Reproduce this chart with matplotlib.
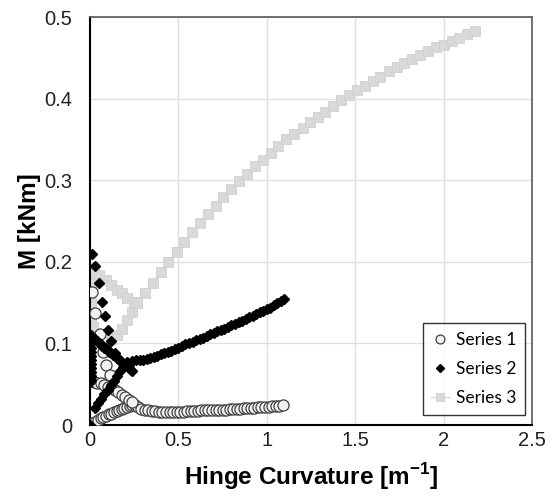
import numpy as np
import matplotlib.pyplot as plt

# Series 1 - open circles
s1_low_x = [0.0, 0.015, 0.03, 0.045, 0.06, 0.075, 0.09, 0.105, 0.12, 0.135, 0.15, 0.165,
            0.18, 0.195, 0.21, 0.225, 0.24, 0.255,
            0.27, 0.29, 0.31, 0.33, 0.35, 0.37, 0.39, 0.41, 0.43, 0.45, 0.47, 0.49, 0.51,
            0.53, 0.55, 0.57, 0.59, 0.61, 0.63, 0.65, 0.67, 0.69, 0.71, 0.73, 0.75, 0.77,
            0.79, 0.81, 0.83, 0.85, 0.87, 0.89, 0.91, 0.93, 0.95, 0.97, 0.99, 1.01, 1.03,
            1.05, 1.07, 1.09]
s1_low_y = [0.000, 0.002, 0.004, 0.006, 0.008, 0.010, 0.011, 0.013, 0.014, 0.016, 0.017, 0.019,
            0.020, 0.021, 0.022, 0.023, 0.024, 0.024,
            0.022, 0.020, 0.019, 0.018, 0.017, 0.017, 0.016, 0.016, 0.016, 0.016, 0.016, 0.016, 0.016,
            0.016, 0.017, 0.017, 0.017, 0.017, 0.018, 0.018, 0.018, 0.018, 0.019, 0.019, 0.019, 0.019,
            0.020, 0.020, 0.020, 0.020, 0.021, 0.021, 0.021, 0.021, 0.022, 0.022, 0.022, 0.022, 0.023,
            0.023, 0.023, 0.024]
s1_up_x = [0.0, 0.02, 0.04, 0.06, 0.08, 0.10, 0.12, 0.14, 0.16, 0.18, 0.20, 0.22, 0.24]
s1_up_y = [0.054, 0.053, 0.052, 0.051, 0.049, 0.047, 0.045, 0.043, 0.040, 0.037, 0.034, 0.031, 0.028]
s1_sp_x = [0.012, 0.03, 0.055, 0.073, 0.093, 0.115]
s1_sp_y = [0.163, 0.137, 0.111, 0.090, 0.074, 0.061]

# Series 2 - black diamonds
s2_main_x = [0.22, 0.24, 0.26, 0.28, 0.30, 0.32, 0.34, 0.36, 0.38, 0.40, 0.42, 0.44, 0.46, 0.48,
             0.50, 0.52, 0.54, 0.56, 0.58, 0.60, 0.62, 0.64, 0.66, 0.68, 0.70, 0.72, 0.74, 0.76,
             0.78, 0.80, 0.82, 0.84, 0.86, 0.88, 0.90, 0.92, 0.94, 0.96, 0.98, 1.00, 1.02, 1.04,
             1.06, 1.08, 1.10]
s2_main_y = [0.074, 0.079, 0.080, 0.080, 0.080, 0.081, 0.082, 0.083, 0.085, 0.087, 0.088, 0.090,
             0.091, 0.093, 0.095, 0.097, 0.099, 0.100, 0.102, 0.104, 0.105, 0.107, 0.109, 0.111,
             0.113, 0.115, 0.117, 0.118, 0.120, 0.122, 0.124, 0.126, 0.128, 0.130, 0.132, 0.134,
             0.136, 0.138, 0.140, 0.142, 0.144, 0.147, 0.149, 0.152, 0.155]
s2_down_x = [0.0, 0.01, 0.02, 0.03, 0.04, 0.05, 0.06, 0.07, 0.08, 0.09, 0.10, 0.11, 0.12, 0.13,
             0.14, 0.15, 0.16, 0.17, 0.18, 0.19, 0.20, 0.21, 0.22, 0.23, 0.24]
s2_down_y = [0.110, 0.108, 0.106, 0.105, 0.103, 0.101, 0.099, 0.097, 0.095, 0.094, 0.092, 0.090,
             0.088, 0.086, 0.084, 0.083, 0.081, 0.079, 0.077, 0.075, 0.073, 0.072, 0.070, 0.068, 0.066]
s2_vert_x = [0.003] * 12 + [0.0, 0.0]
s2_vert_y = [0.055, 0.060, 0.065, 0.070, 0.075, 0.080, 0.085, 0.090, 0.095, 0.100, 0.105, 0.110,
             0.0, 0.053]
s2_sp_x = [0.01, 0.027, 0.05, 0.066, 0.083, 0.10, 0.117, 0.14,
           0.027, 0.045, 0.063, 0.081, 0.099, 0.117, 0.135, 0.153, 0.171, 0.189, 0.207]
s2_sp_y = [0.209, 0.195, 0.174, 0.151, 0.133, 0.117, 0.103, 0.088,
           0.021, 0.027, 0.032, 0.038, 0.043, 0.049, 0.054, 0.060, 0.066, 0.071, 0.077]

# Series 3 - grey squares with line
s3_a_x = [0.008, 0.008, 0.008, 0.008, 0.008, 0.008, 0.008, 0.01, 0.02, 0.05, 0.09, 0.12, 0.15,
          0.18, 0.21, 0.25, 0.265]
s3_a_y = [0.06, 0.11, 0.13, 0.15, 0.17, 0.18, 0.185, 0.19, 0.188, 0.184, 0.178, 0.172, 0.166,
          0.162, 0.156, 0.151, 0.150]
s3_b_x = [0.015, 0.04, 0.12, 0.15, 0.18, 0.21, 0.235, 0.265, 0.31, 0.355, 0.40, 0.44, 0.49, 0.53,
          0.575, 0.62, 0.665, 0.71, 0.753, 0.800, 0.843, 0.889, 0.936, 0.979, 1.021, 1.066,
          1.111, 1.155, 1.202, 1.243, 1.289, 1.332, 1.375, 1.421, 1.466, 1.511, 1.555, 1.598,
          1.643, 1.689, 1.734, 1.777, 1.822, 1.866, 1.913, 1.956, 2.002, 2.045, 2.088, 2.134, 2.179]
s3_b_y = [0.120, 0.108, 0.106, 0.110, 0.118, 0.129, 0.138, 0.150, 0.162, 0.174, 0.188, 0.200,
          0.212, 0.224, 0.236, 0.248, 0.259, 0.269, 0.280, 0.289, 0.299, 0.308, 0.317, 0.325,
          0.333, 0.342, 0.350, 0.357, 0.364, 0.371, 0.378, 0.384, 0.391, 0.398, 0.404, 0.410,
          0.416, 0.421, 0.427, 0.434, 0.439, 0.444, 0.449, 0.454, 0.458, 0.463, 0.466, 0.470,
          0.474, 0.479, 0.483]

plt.rcParams['font.family'] = ['Liberation Sans', 'DejaVu Sans']
plt.rcParams['mathtext.fontset'] = 'custom'
plt.rcParams['mathtext.rm'] = 'Liberation Sans'
plt.rcParams['mathtext.bf'] = 'Liberation Sans:bold'

fig = plt.figure(figsize=(5.58, 4.96), dpi=100)
ax = fig.add_axes([0.1613, 0.1431, 0.7921, 0.8226])

sq = dict(marker='s', ms=7.5, mfc='#d9d9d9', mec='#d0d0d0', mew=0.6, color='#d9d9d9', lw=1)
ax.plot(s3_a_x, s3_a_y, **sq, zorder=2)
ax.plot(s3_b_x, s3_b_y, **sq, zorder=2, label='Series 3')

circ = dict(marker='o', ms=8, mfc='#f2f2f2', mec='#404040', mew=0.9, ls='none')
ax.plot(s1_low_x, s1_low_y, **circ, zorder=3)
ax.plot(s1_up_x, s1_up_y, **circ, zorder=3)
ax.plot(s1_sp_x, s1_sp_y, **circ, zorder=3, label='Series 1')

dia = dict(marker='D', ms=5, mfc='black', mec='black', ls='none')
ax.plot(s2_main_x, s2_main_y, **dia, zorder=4)
ax.plot(s2_down_x, s2_down_y, **dia, zorder=4)
ax.plot(s2_vert_x, s2_vert_y, **dia, zorder=4)
ax.plot(s2_sp_x, s2_sp_y, **dia, zorder=4, label='Series 2')

ax.set_xlim(0, 2.5)
ax.set_ylim(0, 0.5)
ax.set_xticks([0, 0.5, 1, 1.5, 2, 2.5])
ax.set_xticklabels(['0', '0.5', '1', '1.5', '2', '2.5'])
ax.set_yticks([0, 0.1, 0.2, 0.3, 0.4, 0.5])
ax.set_yticklabels(['0', '0.1', '0.2', '0.3', '0.4', '0.5'])
ax.tick_params(length=0, labelsize=14.5, colors='#222222')
ax.tick_params(axis='x', pad=4)
ax.tick_params(axis='y', pad=13)
ax.grid(color='#e0e0e0', lw=1)
ax.set_axisbelow(True)
for s in ['left', 'bottom']:
    ax.spines[s].set_color('black')
    ax.spines[s].set_linewidth(1.5)
for s in ['top', 'right']:
    ax.spines[s].set_color('#595959')
    ax.spines[s].set_linewidth(1.2)

ax.set_xlabel('Hinge Curvature [m$^{\\mathbf{-1}}$]', fontsize=17.5, fontweight='bold', labelpad=8)
ax.set_ylabel('M [kNm]', fontsize=17.5, fontweight='bold', labelpad=2)

h, l = ax.get_legend_handles_labels()
order = [1, 2, 0]
leg = ax.legend([h[i] for i in order], [l[i] for i in order], loc='lower right',
                bbox_to_anchor=(0.984, 0.025), borderaxespad=0, frameon=True, fancybox=False,
                prop={'family': 'Lato', 'size': 12.5},
                edgecolor='black', handlelength=1.0, handletextpad=0.4, borderpad=0.5,
                labelspacing=0.75, markerscale=0.8)
leg.get_frame().set_linewidth(1)

fig.savefig('out.png', dpi=100)
